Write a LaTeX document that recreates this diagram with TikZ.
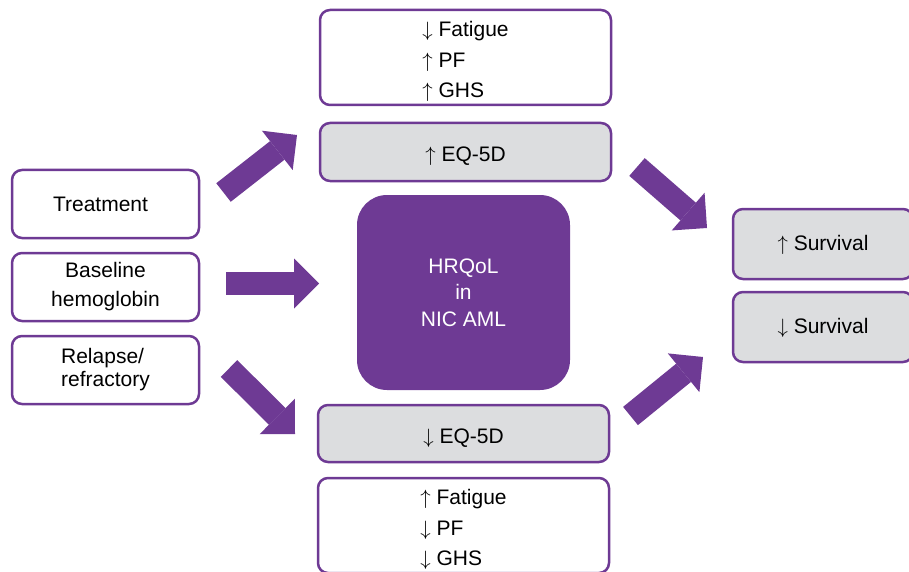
\documentclass[tikz,border=0pt]{standalone}
\usepackage{fontspec}
\setmainfont{Liberation Sans}
\usetikzlibrary{arrows.meta}
\definecolor{hrpurple}{HTML}{6E3A94}
\definecolor{hrgrey}{HTML}{DCDDDF}

\begin{document}
\begin{tikzpicture}[line join=round,x=1pt,y=-1pt,
    box/.style={draw=hrpurple,line width=2.5pt,rounded corners=10pt,fill=white,inner sep=0pt,
        align=center,font=\fontsize{21}{30.5}\selectfont},
    greybox/.style={box,fill=hrgrey,text height=20pt,text depth=0pt},
    fatarrow/.style={draw=hrpurple,line width=23.5pt,line cap=butt,
        -{Triangle[length=25pt,width=50pt,line width=0pt]}}]
    \useasboundingbox (0,0) rectangle (909,572);
    % outcome boxes above and below the centre
    \node[box,minimum width=291pt,minimum height=95pt,align=left] (qolUp) at (465.5,57.5) {\rule{0pt}{24pt}$\downarrow$ Fatigue\\$\uparrow$ PF\\$\uparrow$ GHS};
    \node[greybox,minimum width=291pt,minimum height=58pt] (eqUp) at (465.5,152) {$\uparrow$ EQ-5D};
    \node[greybox,minimum width=291pt,minimum height=57pt] (eqDown) at (463.5,433.5) {$\downarrow$ EQ-5D};
    \node[box,minimum width=291pt,minimum height=95pt,align=left] (qolDown) at (463.5,525.5) {\rule{0pt}{24pt}$\uparrow$ Fatigue\\$\downarrow$ PF\\$\downarrow$ GHS};
    % factors on the left
    \node[box,minimum width=187pt,minimum height=68pt] (treat) at (105.5,204) {\hspace*{-10pt}Treatment};
    \node[box,minimum width=187pt,minimum height=68pt,font=\fontsize{21}{29}\selectfont] (hemo) at (105.5,287) {Baseline\\hemoglobin};
    \node[box,minimum width=187pt,minimum height=68pt,align=left,font=\fontsize{21}{23}\selectfont] (relapse) at (105.5,370) {Relapse/\\refractory};
    % centre
    \node[fill=hrpurple,rounded corners=30pt,minimum width=213pt,minimum height=195pt,inner sep=0pt,
        text=white,align=center,font=\fontsize{21}{26.5}\selectfont] (core) at (463.5,292.5) {HRQoL\\in\\NIC AML};
    % survival on the right
    \node[greybox,minimum width=180pt,minimum height=70pt,text height=12pt] (survUp) at (823,244) {$\uparrow$ Survival};
    \node[greybox,minimum width=180pt,minimum height=70pt,text height=12pt] (survDown) at (823,327) {$\downarrow$ Survival};
    % arrow ends
    \coordinate (treatOut) at (223.5,192.5);
    \coordinate (eqUpIn) at (297,135);
    \coordinate (hemoOut) at (226,283.5);
    \coordinate (coreIn) at (319,283.5);
    \coordinate (relapseOut) at (229,368.5);
    \coordinate (eqDownIn) at (295,434);
    \coordinate (eqUpOut) at (637,167);
    \coordinate (survUpIn) at (707,228);
    \coordinate (eqDownOut) at (630.5,416);
    \coordinate (survDownIn) at (703,357);
    \draw[fatarrow] (treatOut) -- (eqUpIn);
    \draw[fatarrow] (hemoOut) -- (coreIn);
    \draw[fatarrow] (relapseOut) -- (eqDownIn);
    \draw[fatarrow] (eqUpOut) -- (survUpIn);
    \draw[fatarrow] (eqDownOut) -- (survDownIn);
\end{tikzpicture}
\end{document}
